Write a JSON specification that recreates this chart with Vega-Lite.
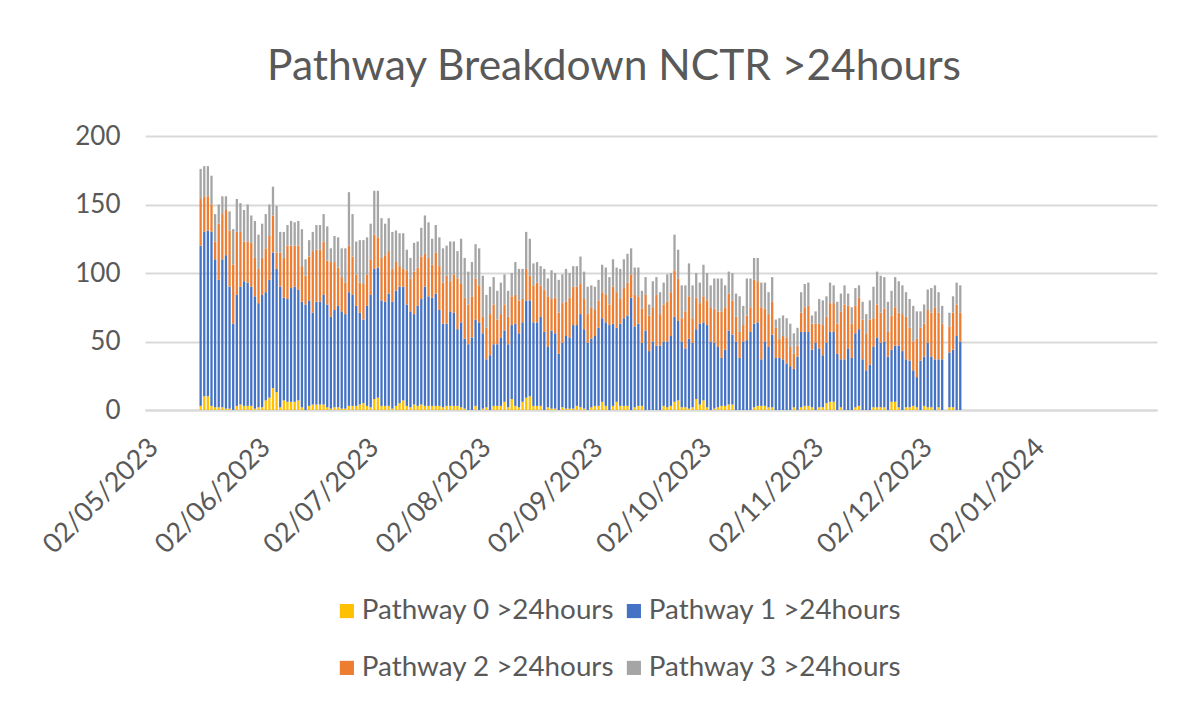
{
"$schema": "https://vega.github.io/schema/vega-lite/v6.json",
"width": 1012, "height": 274,
"autosize": {"type": "none"},
"padding": {"left": 145, "top": 136, "right": 47, "bottom": 296},
"background": "white",
"title": {"text": "Pathway Breakdown NCTR >24hours", "fontSize": 42.5, "font": "Lato", "fontWeight": "normal", "color": "#595959", "anchor": "middle", "baseline": "alphabetic", "offset": 1, "dx": -37},
"datasets": {"names": [
{"k":"p0","name":"Pathway 0 >24hours"},
{"k":"p1","name":"Pathway 1 >24hours"},
{"k":"p2","name":"Pathway 2 >24hours"},
{"k":"p3","name":"Pathway 3 >24hours"}]},
"data": {"format": {"parse": {"d": "date:'%Y-%m-%d'"}}, "values": [
{"d":"2023-05-15","p0":3,"p1":117,"p2":34,"p3":22},
{"d":"2023-05-16","p0":10,"p1":120,"p2":26,"p3":22},
{"d":"2023-05-17","p0":10,"p1":121,"p2":25,"p3":22},
{"d":"2023-05-18","p0":3,"p1":127,"p2":20,"p3":21},
{"d":"2023-05-19","p0":2,"p1":108,"p2":13,"p3":20},
{"d":"2023-05-20","p0":2,"p1":93,"p2":41,"p3":14},
{"d":"2023-05-21","p0":2,"p1":108,"p2":33,"p3":13},
{"d":"2023-05-22","p0":1,"p1":112,"p2":33,"p3":10},
{"d":"2023-05-23","p0":1,"p1":89,"p2":41,"p3":14},
{"d":"2023-05-24","p0":0,"p1":63,"p2":43,"p3":26},
{"d":"2023-05-25","p0":3,"p1":81,"p2":46,"p3":24},
{"d":"2023-05-26","p0":4,"p1":86,"p2":40,"p3":21},
{"d":"2023-05-27","p0":3,"p1":91,"p2":29,"p3":23},
{"d":"2023-05-28","p0":3,"p1":90,"p2":30,"p3":27},
{"d":"2023-05-29","p0":3,"p1":87,"p2":32,"p3":20},
{"d":"2023-05-30","p0":1,"p1":82,"p2":28,"p3":27},
{"d":"2023-05-31","p0":2,"p1":76,"p2":25,"p3":25},
{"d":"2023-06-01","p0":2,"p1":82,"p2":27,"p3":25},
{"d":"2023-06-02","p0":7,"p1":79,"p2":32,"p3":25},
{"d":"2023-06-03","p0":9,"p1":86,"p2":32,"p3":23},
{"d":"2023-06-04","p0":16,"p1":99,"p2":27,"p3":21},
{"d":"2023-06-05","p0":13,"p1":90,"p2":12,"p3":34},
{"d":"2023-06-06","p0":2,"p1":88,"p2":25,"p3":15},
{"d":"2023-06-07","p0":7,"p1":75,"p2":29,"p3":19},
{"d":"2023-06-08","p0":6,"p1":75,"p2":39,"p3":15},
{"d":"2023-06-09","p0":6,"p1":83,"p2":31,"p3":18},
{"d":"2023-06-10","p0":6,"p1":84,"p2":30,"p3":17},
{"d":"2023-06-11","p0":7,"p1":81,"p2":32,"p3":18},
{"d":"2023-06-12","p0":2,"p1":77,"p2":26,"p3":27},
{"d":"2023-06-13","p0":0,"p1":77,"p2":21,"p3":12},
{"d":"2023-06-14","p0":3,"p1":77,"p2":32,"p3":12},
{"d":"2023-06-15","p0":4,"p1":67,"p2":45,"p3":14},
{"d":"2023-06-16","p0":4,"p1":75,"p2":38,"p3":18},
{"d":"2023-06-17","p0":4,"p1":75,"p2":38,"p3":18},
{"d":"2023-06-18","p0":4,"p1":80,"p2":39,"p3":20},
{"d":"2023-06-19","p0":2,"p1":75,"p2":32,"p3":25},
{"d":"2023-06-20","p0":1,"p1":67,"p2":40,"p3":10},
{"d":"2023-06-21","p0":2,"p1":71,"p2":35,"p3":19},
{"d":"2023-06-22","p0":2,"p1":74,"p2":28,"p3":22},
{"d":"2023-06-23","p0":1,"p1":71,"p2":25,"p3":21},
{"d":"2023-06-24","p0":1,"p1":69,"p2":23,"p3":25},
{"d":"2023-06-25","p0":3,"p1":83,"p2":34,"p3":39},
{"d":"2023-06-26","p0":3,"p1":81,"p2":28,"p3":31},
{"d":"2023-06-27","p0":3,"p1":73,"p2":23,"p3":24},
{"d":"2023-06-28","p0":4,"p1":67,"p2":22,"p3":31},
{"d":"2023-06-29","p0":5,"p1":61,"p2":26,"p3":32},
{"d":"2023-06-30","p0":3,"p1":73,"p2":23,"p3":27},
{"d":"2023-07-01","p0":2,"p1":82,"p2":26,"p3":26},
{"d":"2023-07-02","p0":8,"p1":95,"p2":25,"p3":32},
{"d":"2023-07-03","p0":9,"p1":95,"p2":22,"p3":34},
{"d":"2023-07-04","p0":3,"p1":77,"p2":31,"p3":29},
{"d":"2023-07-05","p0":3,"p1":76,"p2":34,"p3":23},
{"d":"2023-07-06","p0":3,"p1":82,"p2":31,"p3":24},
{"d":"2023-07-07","p0":1,"p1":78,"p2":24,"p3":27},
{"d":"2023-07-08","p0":3,"p1":84,"p2":21,"p3":23},
{"d":"2023-07-09","p0":5,"p1":85,"p2":15,"p3":24},
{"d":"2023-07-10","p0":7,"p1":83,"p2":13,"p3":26},
{"d":"2023-07-11","p0":3,"p1":74,"p2":25,"p3":15},
{"d":"2023-07-12","p0":2,"p1":70,"p2":24,"p3":15},
{"d":"2023-07-13","p0":4,"p1":66,"p2":31,"p3":21},
{"d":"2023-07-14","p0":3,"p1":73,"p2":28,"p3":19},
{"d":"2023-07-15","p0":4,"p1":77,"p2":31,"p3":21},
{"d":"2023-07-16","p0":3,"p1":87,"p2":24,"p3":28},
{"d":"2023-07-17","p0":3,"p1":80,"p2":28,"p3":26},
{"d":"2023-07-18","p0":3,"p1":79,"p2":24,"p3":19},
{"d":"2023-07-19","p0":3,"p1":82,"p2":30,"p3":20},
{"d":"2023-07-20","p0":3,"p1":70,"p2":32,"p3":21},
{"d":"2023-07-21","p0":2,"p1":61,"p2":30,"p3":25},
{"d":"2023-07-22","p0":3,"p1":60,"p2":35,"p3":22},
{"d":"2023-07-23","p0":3,"p1":69,"p2":22,"p3":29},
{"d":"2023-07-24","p0":3,"p1":68,"p2":28,"p3":24},
{"d":"2023-07-25","p0":3,"p1":56,"p2":37,"p3":20},
{"d":"2023-07-26","p0":2,"p1":62,"p2":28,"p3":33},
{"d":"2023-07-27","p0":1,"p1":51,"p2":30,"p3":29},
{"d":"2023-07-28","p0":0,"p1":48,"p2":29,"p3":24},
{"d":"2023-07-29","p0":0,"p1":53,"p2":30,"p3":25},
{"d":"2023-07-30","p0":3,"p1":63,"p2":30,"p3":25},
{"d":"2023-07-31","p0":0,"p1":64,"p2":27,"p3":27},
{"d":"2023-08-01","p0":1,"p1":55,"p2":12,"p3":30},
{"d":"2023-08-02","p0":2,"p1":35,"p2":23,"p3":24},
{"d":"2023-08-03","p0":0,"p1":40,"p2":30,"p3":20},
{"d":"2023-08-04","p0":3,"p1":45,"p2":29,"p3":20},
{"d":"2023-08-05","p0":3,"p1":45,"p2":18,"p3":21},
{"d":"2023-08-06","p0":3,"p1":50,"p2":17,"p3":23},
{"d":"2023-08-07","p0":6,"p1":52,"p2":19,"p3":22},
{"d":"2023-08-08","p0":2,"p1":46,"p2":20,"p3":19},
{"d":"2023-08-09","p0":8,"p1":54,"p2":21,"p3":17},
{"d":"2023-08-10","p0":3,"p1":60,"p2":21,"p3":24},
{"d":"2023-08-11","p0":2,"p1":54,"p2":24,"p3":23},
{"d":"2023-08-12","p0":6,"p1":58,"p2":17,"p3":22},
{"d":"2023-08-13","p0":9,"p1":71,"p2":23,"p3":27},
{"d":"2023-08-14","p0":10,"p1":70,"p2":18,"p3":27},
{"d":"2023-08-15","p0":3,"p1":61,"p2":27,"p3":16},
{"d":"2023-08-16","p0":3,"p1":61,"p2":29,"p3":15},
{"d":"2023-08-17","p0":3,"p1":65,"p2":23,"p3":14},
{"d":"2023-08-18","p0":0,"p1":57,"p2":31,"p3":15},
{"d":"2023-08-19","p0":2,"p1":44,"p2":37,"p3":13},
{"d":"2023-08-20","p0":1,"p1":57,"p2":23,"p3":21},
{"d":"2023-08-21","p0":1,"p1":55,"p2":26,"p3":18},
{"d":"2023-08-22","p0":0,"p1":41,"p2":30,"p3":24},
{"d":"2023-08-23","p0":2,"p1":47,"p2":29,"p3":21},
{"d":"2023-08-24","p0":1,"p1":53,"p2":25,"p3":24},
{"d":"2023-08-25","p0":1,"p1":52,"p2":29,"p3":18},
{"d":"2023-08-26","p0":1,"p1":61,"p2":28,"p3":15},
{"d":"2023-08-27","p0":3,"p1":59,"p2":28,"p3":15},
{"d":"2023-08-28","p0":2,"p1":68,"p2":22,"p3":20},
{"d":"2023-08-29","p0":1,"p1":58,"p2":22,"p3":20},
{"d":"2023-08-30","p0":0,"p1":49,"p2":21,"p3":20},
{"d":"2023-08-31","p0":2,"p1":50,"p2":23,"p3":16},
{"d":"2023-09-01","p0":3,"p1":51,"p2":19,"p3":17},
{"d":"2023-09-02","p0":3,"p1":57,"p2":20,"p3":15},
{"d":"2023-09-03","p0":6,"p1":61,"p2":19,"p3":20},
{"d":"2023-09-04","p0":3,"p1":61,"p2":20,"p3":20},
{"d":"2023-09-05","p0":0,"p1":62,"p2":15,"p3":20},
{"d":"2023-09-06","p0":3,"p1":60,"p2":27,"p3":20},
{"d":"2023-09-07","p0":6,"p1":54,"p2":26,"p3":18},
{"d":"2023-09-08","p0":3,"p1":60,"p2":18,"p3":22},
{"d":"2023-09-09","p0":3,"p1":64,"p2":22,"p3":21},
{"d":"2023-09-10","p0":3,"p1":66,"p2":24,"p3":21},
{"d":"2023-09-11","p0":0,"p1":82,"p2":17,"p3":19},
{"d":"2023-09-12","p0":2,"p1":59,"p2":23,"p3":20},
{"d":"2023-09-13","p0":3,"p1":60,"p2":20,"p3":21},
{"d":"2023-09-14","p0":3,"p1":46,"p2":25,"p3":13},
{"d":"2023-09-15","p0":0,"p1":58,"p2":26,"p3":13},
{"d":"2023-09-16","p0":0,"p1":43,"p2":26,"p3":8},
{"d":"2023-09-17","p0":0,"p1":50,"p2":25,"p3":19},
{"d":"2023-09-18","p0":0,"p1":47,"p2":37,"p3":13},
{"d":"2023-09-19","p0":0,"p1":47,"p2":23,"p3":16},
{"d":"2023-09-20","p0":3,"p1":47,"p2":27,"p3":16},
{"d":"2023-09-21","p0":2,"p1":48,"p2":29,"p3":20},
{"d":"2023-09-22","p0":3,"p1":51,"p2":32,"p3":14},
{"d":"2023-09-23","p0":6,"p1":62,"p2":34,"p3":26},
{"d":"2023-09-24","p0":7,"p1":58,"p2":31,"p3":21},
{"d":"2023-09-25","p0":2,"p1":48,"p2":17,"p3":24},
{"d":"2023-09-26","p0":2,"p1":43,"p2":27,"p3":19},
{"d":"2023-09-27","p0":1,"p1":51,"p2":31,"p3":24},
{"d":"2023-09-28","p0":2,"p1":47,"p2":18,"p3":24},
{"d":"2023-09-29","p0":8,"p1":51,"p2":23,"p3":18},
{"d":"2023-09-30","p0":4,"p1":59,"p2":15,"p3":15},
{"d":"2023-10-01","p0":7,"p1":57,"p2":19,"p3":23},
{"d":"2023-10-02","p0":2,"p1":60,"p2":18,"p3":20},
{"d":"2023-10-03","p0":0,"p1":50,"p2":25,"p3":16},
{"d":"2023-10-04","p0":1,"p1":48,"p2":25,"p3":22},
{"d":"2023-10-05","p0":2,"p1":44,"p2":26,"p3":24},
{"d":"2023-10-06","p0":3,"p1":35,"p2":34,"p3":24},
{"d":"2023-10-07","p0":3,"p1":41,"p2":31,"p3":16},
{"d":"2023-10-08","p0":4,"p1":54,"p2":27,"p3":16},
{"d":"2023-10-09","p0":4,"p1":51,"p2":25,"p3":20},
{"d":"2023-10-10","p0":0,"p1":50,"p2":18,"p3":17},
{"d":"2023-10-11","p0":0,"p1":38,"p2":19,"p3":26},
{"d":"2023-10-12","p0":0,"p1":50,"p2":12,"p3":14},
{"d":"2023-10-13","p0":0,"p1":51,"p2":18,"p3":27},
{"d":"2023-10-14","p0":0,"p1":57,"p2":18,"p3":21},
{"d":"2023-10-15","p0":2,"p1":61,"p2":32,"p3":16},
{"d":"2023-10-16","p0":3,"p1":61,"p2":30,"p3":17},
{"d":"2023-10-17","p0":3,"p1":34,"p2":38,"p3":18},
{"d":"2023-10-18","p0":3,"p1":47,"p2":24,"p3":19},
{"d":"2023-10-19","p0":2,"p1":44,"p2":24,"p3":16},
{"d":"2023-10-20","p0":2,"p1":53,"p2":24,"p3":18},
{"d":"2023-10-21","p0":0,"p1":38,"p2":22,"p3":6},
{"d":"2023-10-22","p0":0,"p1":38,"p2":14,"p3":15},
{"d":"2023-10-23","p0":0,"p1":37,"p2":17,"p3":15},
{"d":"2023-10-24","p0":0,"p1":34,"p2":19,"p3":14},
{"d":"2023-10-25","p0":0,"p1":32,"p2":14,"p3":17},
{"d":"2023-10-26","p0":2,"p1":28,"p2":11,"p3":15},
{"d":"2023-10-27","p0":0,"p1":39,"p2":8,"p3":13},
{"d":"2023-10-28","p0":2,"p1":55,"p2":14,"p3":15},
{"d":"2023-10-29","p0":3,"p1":54,"p2":18,"p3":17},
{"d":"2023-10-30","p0":3,"p1":54,"p2":19,"p3":17},
{"d":"2023-10-31","p0":2,"p1":42,"p2":19,"p3":6},
{"d":"2023-11-01","p0":0,"p1":49,"p2":14,"p3":9},
{"d":"2023-11-02","p0":2,"p1":43,"p2":18,"p3":18},
{"d":"2023-11-03","p0":2,"p1":38,"p2":22,"p3":18},
{"d":"2023-11-04","p0":5,"p1":44,"p2":19,"p3":15},
{"d":"2023-11-05","p0":6,"p1":51,"p2":21,"p3":15},
{"d":"2023-11-06","p0":6,"p1":51,"p2":21,"p3":13},
{"d":"2023-11-07","p0":0,"p1":41,"p2":22,"p3":16},
{"d":"2023-11-08","p0":2,"p1":35,"p2":35,"p3":13},
{"d":"2023-11-09","p0":0,"p1":37,"p2":40,"p3":14},
{"d":"2023-11-10","p0":0,"p1":45,"p2":31,"p3":9},
{"d":"2023-11-11","p0":0,"p1":38,"p2":25,"p3":12},
{"d":"2023-11-12","p0":2,"p1":54,"p2":20,"p3":13},
{"d":"2023-11-13","p0":3,"p1":56,"p2":23,"p3":9},
{"d":"2023-11-14","p0":0,"p1":37,"p2":29,"p3":13},
{"d":"2023-11-15","p0":0,"p1":29,"p2":27,"p3":14},
{"d":"2023-11-16","p0":0,"p1":33,"p2":33,"p3":14},
{"d":"2023-11-17","p0":2,"p1":44,"p2":21,"p3":23},
{"d":"2023-11-18","p0":2,"p1":51,"p2":24,"p3":24},
{"d":"2023-11-19","p0":2,"p1":47,"p2":22,"p3":27},
{"d":"2023-11-20","p0":2,"p1":48,"p2":24,"p3":23},
{"d":"2023-11-21","p0":0,"p1":39,"p2":18,"p3":22},
{"d":"2023-11-22","p0":6,"p1":38,"p2":25,"p3":18},
{"d":"2023-11-23","p0":6,"p1":41,"p2":28,"p3":22},
{"d":"2023-11-24","p0":2,"p1":45,"p2":24,"p3":23},
{"d":"2023-11-25","p0":0,"p1":43,"p2":27,"p3":21},
{"d":"2023-11-26","p0":2,"p1":35,"p2":31,"p3":18},
{"d":"2023-11-27","p0":2,"p1":34,"p2":24,"p3":21},
{"d":"2023-11-28","p0":3,"p1":26,"p2":21,"p3":26},
{"d":"2023-11-29","p0":2,"p1":22,"p2":28,"p3":20},
{"d":"2023-11-30","p0":0,"p1":36,"p2":24,"p3":12},
{"d":"2023-12-01","p0":3,"p1":36,"p2":24,"p3":14},
{"d":"2023-12-02","p0":2,"p1":47,"p2":24,"p3":15},
{"d":"2023-12-03","p0":2,"p1":37,"p2":32,"p3":18},
{"d":"2023-12-04","p0":0,"p1":37,"p2":38,"p3":16},
{"d":"2023-12-05","p0":2,"p1":35,"p2":34,"p3":15},
{"d":"2023-12-06","p0":0,"p1":37,"p2":26,"p3":13},
{"d":"2023-12-08","p0":2,"p1":40,"p2":19,"p3":10},
{"d":"2023-12-09","p0":2,"p1":42,"p2":27,"p3":12},
{"d":"2023-12-10","p0":0,"p1":54,"p2":23,"p3":16},
{"d":"2023-12-11","p0":0,"p1":50,"p2":21,"p3":20}
]},
"transform": [
{"fold": ["p0","p1","p2","p3"], "as": ["k","v"]},
{"lookup": "k", "from": {"data": {"name": "names"}, "key": "k", "fields": ["name"]}}
],
"mark": {"type": "bar", "width": 2.3},
"encoding": {
"x": {"field": "d", "type": "temporal",
 "scale": {"domain": [{"year":2023,"month":5,"date":1},{"year":2024,"month":2,"date":2}]},
 "axis": {"title": null, "values": [{"year":2023,"month":5,"date":2},{"year":2023,"month":6,"date":2},{"year":2023,"month":7,"date":2},{"year":2023,"month":8,"date":2},{"year":2023,"month":9,"date":2},{"year":2023,"month":10,"date":2},{"year":2023,"month":11,"date":2},{"year":2023,"month":12,"date":2},{"year":2024,"month":1,"date":2}],
  "format": "%d/%m/%Y", "labelAngle": -45, "labelAlign": "right", "labelBaseline": "middle", "labelFont": "Lato", "labelFontSize": 27, "labelColor": "#595959", "labelPadding": 33, "labelOverlap": false, "labelFlush": false, "ticks": false, "grid": false, "domainColor": "#d9d9d9", "domainWidth": 2}},
"y": {"field": "v", "type": "quantitative", "stack": "zero",
 "scale": {"domain": [0, 200]},
 "axis": {"title": null, "values": [0,50,100,150,200], "labelFont": "Lato", "labelFontSize": 26, "labelColor": "#595959", "labelPadding": 25, "ticks": false, "domain": false, "gridColor": "#d9d9d9", "gridWidth": 2}},
"color": {"field": "name", "type": "nominal",
 "scale": {"domain": ["Pathway 0 >24hours","Pathway 1 >24hours","Pathway 2 >24hours","Pathway 3 >24hours"], "range": ["#FFC000","#4472C4","#ED7D31","#A5A5A5"]},
 "legend": {"title": null, "orient": "none", "direction": "horizontal", "legendX": 188, "legendY": 461, "columns": 2, "symbolType": "square", "symbolSize": 200, "symbolStrokeWidth": 0, "labelFont": "Lato", "labelFontSize": 27.8, "labelColor": "#595959", "labelLimit": 400, "columnPadding": 5, "rowPadding": 28, "labelOffset": 1}},
"order": {"field": "k", "type": "nominal", "sort": "ascending"}
},
"config": {"view": {"stroke": null}}
}
